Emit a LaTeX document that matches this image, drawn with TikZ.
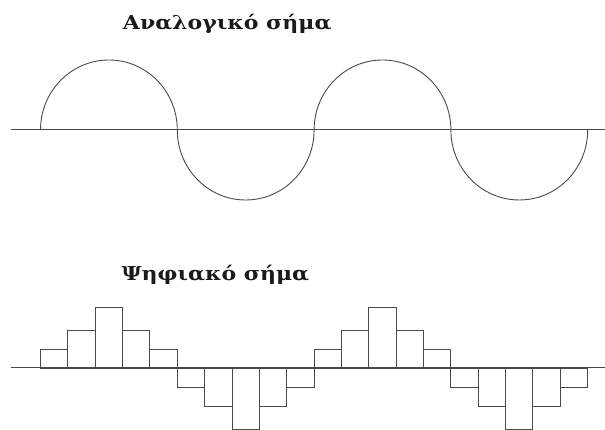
\documentclass[tikz,border=0pt]{standalone}
\usepackage{fontspec}
\newfontfamily\titlefont{DejaVu Serif}
\definecolor{linec}{HTML}{4A4A4A}
\definecolor{textc}{HTML}{1A1A1A}
\newcommand{\widetitle}[1]{\scalebox{1.145}[1]{#1}}
\tikzset{
  sig/.style={draw=linec, line width=0.9pt},
  axisline/.style={draw=linec, line width=1pt},
  titletext/.style={font=\titlefont\bfseries\fontsize{19.2}{22}\selectfont, text=textc, inner sep=0pt, anchor=base}
}
\begin{document}
\begin{tikzpicture}[x=1pt,y=1pt]
\useasboundingbox (0,0) rectangle (605,430);
% titles
\node[titletext] (t1) at (227.2,400.7) {\widetitle{Αναλογικό σήμα}};
\node[titletext] (t2) at (215.4,149.3) {\widetitle{Ψηφιακό σήμα}};
% analog axis and wave
\coordinate (a0) at (11,300);
\coordinate (a1) at (605,300);
\draw[axisline] (a0) -- (a1);
\coordinate (w0) at (40.5,300);
\draw[sig] (w0)
  arc[start angle=180,end angle=0,x radius=68.4,y radius=70]
  arc[start angle=180,end angle=360,x radius=68.4,y radius=70]
  arc[start angle=180,end angle=0,x radius=68.4,y radius=70]
  arc[start angle=180,end angle=360,x radius=68.4,y radius=70];
% digital
\coordinate (d0) at (11,62);
\coordinate (d1) at (605,62);
\foreach \h [count=\i from 0] in {19,38,61,38,19,-19,-38,-61,-38,-19,19,38,61,38,19,-19,-38,-61,-38,-19}
  \draw[sig] ({40.5+27.35*\i},62) rectangle ++(27.35,\h);
\draw[axisline] (d0) -- (d1);
\end{tikzpicture}
\end{document}
